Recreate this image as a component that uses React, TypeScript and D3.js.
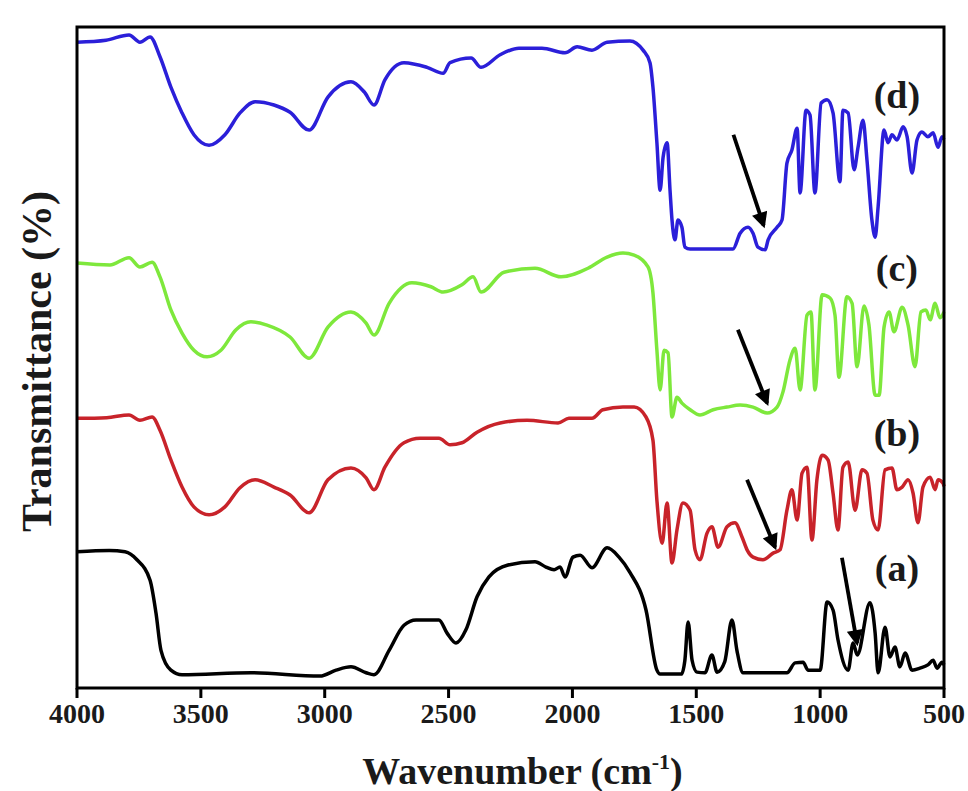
import { useMemo } from 'react'
import * as d3 from 'd3'

const WIDTH = 968
const HEIGHT = 791
const MARGIN = { top: 27, right: 24, bottom: 103, left: 77 }
const FONT = '"Liberation Serif", "Times New Roman", serif'

const X_TICKS = [4000, 3500, 3000, 2500, 2000, 1500, 1000, 500]

// [wavenumber (cm-1), transmittance (a.u., offset for stacking)]
const SPECTRUM_A: [number, number][] = [
  [4000, 20.6], [3870, 20.8], [3806, 20.6], [3758, 19.4], [3705, 16.3], [3681, 11.3], [3661, 5.7],
  [3621, 2.7], [3576, 2.0], [3298, 2.3], [3019, 1.8], [2954, 2.7], [2894, 3.2], [2833, 2.3],
  [2801, 2.0], [2740, 5.7], [2680, 9.5], [2631, 10.3], [2539, 10.3], [2506, 8.3], [2470, 6.8],
  [2430, 8.8], [2385, 13.8], [2337, 16.8], [2260, 18.6], [2151, 19.1], [2107, 18.3], [2074, 17.9],
  [2050, 18.3], [2030, 16.8], [1998, 19.8], [1969, 20.1], [1921, 18.2], [1860, 21.2], [1812, 19.8],
  [1768, 17.5], [1703, 11.8], [1659, 2.7], [1646, 2.1], [1560, 2.1], [1546, 4.2], [1533, 10.0],
  [1517, 4.2], [1497, 2.4], [1465, 2.3], [1437, 5.0], [1416, 2.4], [1385, 4.0], [1356, 10.3],
  [1336, 5.7], [1311, 2.3], [1134, 2.3], [1101, 3.8], [1069, 3.9], [1049, 2.7], [1000, 2.7],
  [972, 13.0], [948, 11.8], [928, 7.3], [887, 2.7], [867, 6.8], [850, 5.0], [799, 12.9],
  [778, 8.3], [766, 2.3], [738, 9.2], [718, 4.7], [698, 6.2], [678, 3.2], [657, 5.3],
  [629, 2.7], [597, 3.0], [565, 3.5], [544, 4.2], [528, 3.0], [508, 3.9], [500, 3.5]
]

const SPECTRUM_B: [number, number][] = [
  [4000, 40.8], [3880, 40.9], [3790, 41.3], [3746, 40.5], [3697, 41.0], [3665, 39.0], [3621, 34.5],
  [3576, 30.4], [3528, 27.4], [3467, 26.2], [3403, 27.4], [3342, 30.3], [3281, 31.5], [3205, 30.4],
  [3140, 29.2], [3063, 26.5], [2987, 31.5], [2894, 33.3], [2833, 31.8], [2801, 30.0], [2757, 33.4],
  [2680, 37.1], [2615, 37.8], [2539, 37.8], [2494, 36.8], [2446, 37.1], [2385, 38.7], [2292, 40.1],
  [2183, 40.5], [2058, 40.1], [2014, 40.8], [1921, 40.8], [1877, 42.1], [1796, 42.5], [1751, 42.5],
  [1703, 41.0], [1675, 37.5], [1659, 28.4], [1638, 21.9], [1618, 28.0], [1598, 18.9], [1578, 23.9],
  [1554, 28.0], [1525, 26.9], [1505, 20.9], [1485, 19.4], [1457, 23.4], [1437, 24.4], [1412, 21.3],
  [1376, 24.4], [1344, 25.0], [1315, 22.8], [1295, 20.9], [1271, 19.8], [1231, 19.4], [1190, 20.4],
  [1162, 20.9], [1134, 26.9], [1114, 30.0], [1093, 25.4], [1073, 32.5], [1053, 33.4], [1033, 22.4],
  [1013, 31.5], [992, 35.2], [968, 34.5], [948, 29.5], [928, 23.9], [908, 33.4], [887, 34.2],
  [859, 26.9], [831, 33.0], [811, 32.5], [787, 25.4], [766, 23.9], [738, 33.0], [710, 33.3],
  [690, 30.0], [669, 30.4], [645, 31.5], [625, 29.5], [605, 25.0], [585, 30.4], [556, 31.9],
  [536, 30.0], [524, 31.5], [504, 31.0], [500, 30.5]
]

const SPECTRUM_C: [number, number][] = [
  [4000, 64.3], [3867, 64.0], [3790, 65.1], [3746, 63.7], [3697, 64.4], [3665, 62.2], [3621, 57.2],
  [3576, 53.7], [3528, 51.1], [3475, 50.1], [3419, 51.1], [3358, 54.2], [3298, 55.4], [3233, 54.9],
  [3140, 53.1], [3063, 49.9], [2987, 54.6], [2894, 56.9], [2833, 55.2], [2801, 53.4], [2740, 58.2],
  [2648, 61.3], [2571, 60.7], [2522, 59.9], [2446, 61.0], [2401, 62.2], [2369, 59.9], [2276, 62.9],
  [2151, 63.5], [2046, 62.2], [1937, 63.5], [1860, 65.2], [1796, 65.8], [1751, 65.5], [1695, 63.7],
  [1675, 59.8], [1659, 51.1], [1646, 45.1], [1630, 51.1], [1614, 50.7], [1598, 41.0], [1578, 44.0],
  [1558, 43.1], [1525, 42.1], [1485, 41.3], [1432, 42.1], [1376, 42.5], [1323, 42.8], [1271, 42.5],
  [1214, 41.6], [1174, 42.5], [1150, 44.8], [1122, 49.6], [1101, 51.4], [1081, 45.1], [1053, 56.4],
  [1037, 56.9], [1021, 45.1], [992, 59.5], [960, 59.0], [940, 56.4], [924, 47.0], [892, 59.2],
  [871, 58.2], [851, 48.6], [823, 57.8], [803, 54.9], [778, 44.3], [762, 44.3], [742, 54.6],
  [722, 56.9], [702, 53.9], [669, 57.6], [645, 54.9], [617, 48.6], [593, 56.9], [573, 57.2],
  [556, 55.7], [536, 58.2], [516, 56.0], [500, 56.9]
]

const SPECTRUM_D: [number, number][] = [
  [4000, 97.7], [3883, 98.0], [3790, 98.8], [3746, 97.7], [3705, 98.5], [3665, 95.5], [3621, 90.9],
  [3576, 87.0], [3528, 83.7], [3467, 82.1], [3403, 83.7], [3342, 87.0], [3281, 88.7], [3205, 88.2],
  [3140, 87.1], [3063, 84.4], [2987, 89.4], [2894, 91.7], [2841, 90.2], [2801, 88.2], [2757, 92.0],
  [2680, 94.6], [2587, 93.9], [2522, 93.0], [2494, 94.6], [2409, 95.3], [2369, 93.9], [2292, 95.8],
  [2216, 96.8], [2123, 96.8], [2030, 96.1], [1981, 97.0], [1921, 96.5], [1860, 97.7], [1768, 97.9],
  [1715, 96.5], [1687, 94.6], [1675, 90.9], [1659, 82.5], [1646, 75.3], [1634, 80.3], [1618, 82.5],
  [1606, 75.3], [1598, 70.8], [1586, 67.8], [1574, 70.8], [1558, 69.7], [1546, 66.7], [1525, 66.4],
  [1352, 66.4], [1323, 68.8], [1291, 69.7], [1271, 68.8], [1251, 66.7], [1222, 66.3], [1210, 67.8],
  [1174, 69.7], [1154, 70.8], [1134, 79.4], [1114, 81.4], [1093, 84.7], [1081, 74.9], [1057, 87.4],
  [1041, 86.7], [1021, 74.9], [996, 88.5], [972, 89.0], [948, 87.0], [920, 76.6], [908, 87.4],
  [887, 87.0], [863, 78.4], [847, 81.8], [827, 85.9], [811, 79.9], [791, 70.8], [778, 68.2],
  [766, 72.8], [742, 84.4], [726, 82.5], [710, 83.7], [690, 82.9], [665, 84.9], [649, 83.4],
  [629, 77.9], [609, 82.9], [589, 84.1], [565, 83.4], [544, 84.0], [524, 81.8], [508, 83.4],
  [500, 83.0]
]

const SERIES = [
  { id: 'a', label: '(a)', color: '#000000', data: SPECTRUM_A, labelAt: [690, 16.2] },
  { id: 'b', label: '(b)', color: '#c8232a', data: SPECTRUM_B, labelAt: [690, 36.6] },
  { id: 'c', label: '(c)', color: '#7ee83c', data: SPECTRUM_C, labelAt: [690, 61.6] },
  { id: 'd', label: '(d)', color: '#2b1fd9', data: SPECTRUM_D, labelAt: [690, 87.8] }
]

// arrows: [from wavenumber, from T, to wavenumber, to T]
const ARROWS = [
  [912, 19.7, 851, 6.8],
  [1295, 31.5, 1182, 21.3],
  [1332, 54.2, 1214, 43.1],
  [1350, 83.7, 1228, 70.0]
]

export default function App() {
  const innerW = WIDTH - MARGIN.left - MARGIN.right
  const innerH = HEIGHT - MARGIN.top - MARGIN.bottom

  const x = useMemo(() => d3.scaleLinear().domain([4000, 500]).range([0, innerW]), [innerW])
  const y = useMemo(() => d3.scaleLinear().domain([0, 100]).range([innerH, 0]), [innerH])

  const line = d3.line<[number, number]>()
    .x(d => x(d[0]))
    .y(d => y(d[1]))
    .curve(d3.curveMonotoneX)

  return (
    <svg
      width={WIDTH}
      height={HEIGHT}
      style={{ position: 'absolute', left: 0, top: 0, background: '#fff' }}
      fontFamily={FONT}
      fontWeight="bold"
    >
      <defs>
        <marker id="arrowHead" viewBox="0 0 10 10" refX="8" refY="5"
          markerWidth="5" markerHeight="4.2" orient="auto" markerUnits="strokeWidth">
          <path d="M0,0 L10,5 L0,10 z" fill="#000" />
        </marker>
      </defs>
      <g transform={`translate(${MARGIN.left},${MARGIN.top})`}>
        {SERIES.map(s => (
          <path key={s.id} d={line(s.data) ?? ''} fill="none" stroke={s.color}
            strokeWidth={3.5} strokeLinejoin="round" />
        ))}

        {ARROWS.map((a, i) => (
          <line key={i} x1={x(a[0])} y1={y(a[1])} x2={x(a[2])} y2={y(a[3])}
            stroke="#000" strokeWidth={3.8} markerEnd="url(#arrowHead)" />
        ))}

        {SERIES.map(s => (
          <text key={`lbl-${s.id}`} x={x(s.labelAt[0])} y={y(s.labelAt[1])}
            textAnchor="middle" fontSize={38} fill="#1a1a1a">
            {s.label}
          </text>
        ))}

        {/* frame */}
        <rect x={0} y={0} width={innerW} height={innerH} fill="none" stroke="#000" strokeWidth={3} />

        {/* bottom axis ticks */}
        {X_TICKS.map(t => (
          <g key={t} transform={`translate(${x(t)},${innerH})`}>
            <line y1={0} y2={10} stroke="#000" strokeWidth={3} />
            <text y={35} textAnchor="middle" fontSize={28} fill="#1a1a1a">{t}</text>
          </g>
        ))}

        <text x={innerW / 2 + 12} y={innerH + 96} textAnchor="middle" fontSize={38} fill="#1a1a1a">
          Wavenumber (cm<tspan dy={-15} fontSize={22}>-1</tspan><tspan dy={15}>)</tspan>
        </text>

        <text transform={`translate(${-26},${innerH / 2 + 4}) rotate(-90)`} textAnchor="middle"
          fontSize={42} fill="#1a1a1a">
          Transmittance (%)
        </text>
      </g>
    </svg>
  )
}
